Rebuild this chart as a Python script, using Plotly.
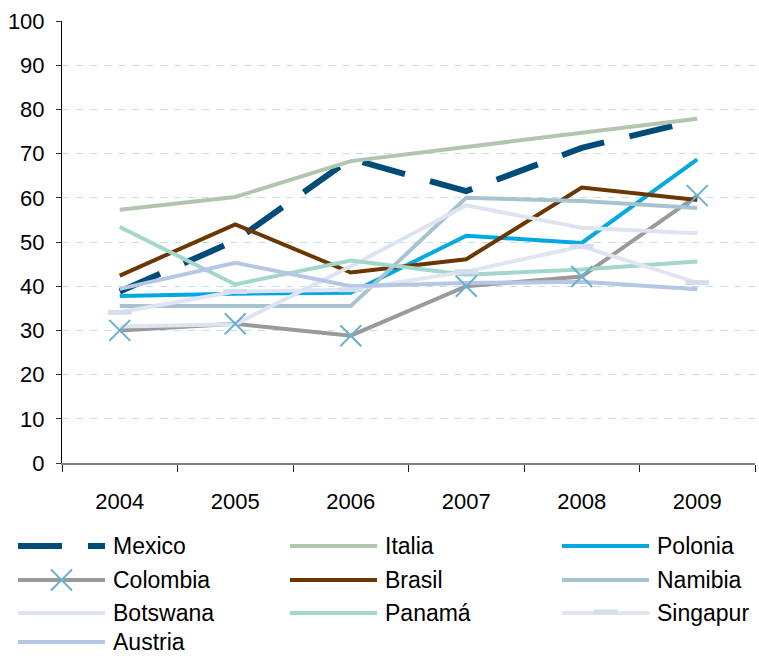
import plotly.graph_objects as go

# Index values per country, 2004-2009
years = ["2004", "2005", "2006", "2007", "2008", "2009"]
mexico = [38.8, 50.3, 68.8, 61.5, 71.3, 77.6]
italia = [57.3, 60.2, 68.3, 71.4, 74.7, 77.9]
polonia = [37.8, 38.3, 38.5, 51.4, 49.8, 68.7]
colombia = [30.0, 31.5, 28.8, 40.0, 42.2, 60.5]
brasil = [42.4, 54.0, 43.1, 46.1, 62.3, 59.5]
namibia = [35.5, 35.5, 35.5, 60.0, 59.3, 57.7]
botswana = [30.9, 31.4, 44.5, 58.3, 53.2, 52.0]
panama = [53.4, 40.4, 45.8, 42.6, 43.8, 45.6]
singapur = [34.1, 38.8, 39.2, 43.3, 49.0, 40.8]
austria = [39.4, 45.3, 40.0, 40.7, 41.0, 39.3]

names = ["Mexico", "Italia", "Polonia", "Colombia", "Brasil",
         "Namibia", "Botswana", "Panamá", "Singapur", "Austria"]
values = [mexico, italia, polonia, colombia, brasil,
          namibia, botswana, panama, singapur, austria]
colors = ["#004C78", "#B2C5AF", "#00A9E0", "#9A9A9A", "#6B3700",
          "#A6C3D1", "#DDE3F1", "#A3D7CB", "#E1E5F3", "#B5C7E4"]
widths = [6, 4, 4, 4, 4, 4, 4, 4, 4, 4]
dashes = ["44px,26px"] + ["solid"] * 9

COLOMBIA_MARK = "#6BAFD0"
SINGAPUR_MARK = "#D6DDEE"

W, H = 759, 658
TOP = 21
PLOT_BOTTOM = 463
PLOT_LEFT, PLOT_RIGHT = 62, 755
main_y0 = (H - PLOT_BOTTOM) / (H - TOP)

AXIS_FONT = "Liberation Sans, Arial, sans-serif"
LEGEND_FONT = "Liberation Sans, Arial, sans-serif"

fig = go.Figure()

# Country lines (drawn in legend order, later series on top)
for name, vals, col, w, d in zip(names, values, colors, widths, dashes):
    fig.add_trace(go.Scatter(
        x=years, y=vals, mode="lines", name=name,
        line=dict(color=col, width=w, dash=d),
        showlegend=False, xaxis="x", yaxis="y",
    ))

# Point markers sit above all lines
fig.add_trace(go.Scatter(
    x=years, y=colombia, mode="markers", showlegend=False,
    marker=dict(symbol="x-thin-open", size=21, color=COLOMBIA_MARK,
                line=dict(color=COLOMBIA_MARK, width=2)),
))
fig.add_trace(go.Scatter(
    x=years, y=singapur, mode="markers", showlegend=False,
    marker=dict(symbol="line-ew-open", size=17, color=SINGAPUR_MARK,
                line=dict(color=SINGAPUR_MARK, width=5)),
))

# Legend block below the plot, laid out on a helper axis in pixel units
col_line_x = [18, 290, 562]
line_len = 87
text_gap = 6
row_y = [546, 580, 613, 642]

for i, (name, col, w, d) in enumerate(zip(names, colors, widths, dashes)):
    r, c = divmod(i, 3)
    x0 = col_line_x[c]
    yy = row_y[r]
    fig.add_trace(go.Scatter(
        x=[x0, x0 + line_len], y=[yy, yy], mode="lines",
        line=dict(color=col, width=w, dash=d),
        showlegend=False, hoverinfo="skip", xaxis="x2", yaxis="y2",
    ))
    if name == "Colombia":
        fig.add_trace(go.Scatter(
            x=[x0 + line_len / 2], y=[yy], mode="markers", showlegend=False,
            hoverinfo="skip", xaxis="x2", yaxis="y2",
            marker=dict(symbol="x-thin-open", size=21, color=COLOMBIA_MARK,
                        line=dict(color=COLOMBIA_MARK, width=2)),
        ))
    if name == "Singapur":
        fig.add_trace(go.Scatter(
            x=[x0 + line_len / 2], y=[yy - 1], mode="markers", showlegend=False,
            hoverinfo="skip", xaxis="x2", yaxis="y2",
            marker=dict(symbol="line-ew-open", size=17, color=SINGAPUR_MARK,
                        line=dict(color=SINGAPUR_MARK, width=5)),
        ))
    fig.add_annotation(
        x=x0 + line_len + text_gap, y=yy, xref="x2", yref="y2",
        text=name, showarrow=False, xanchor="left", yanchor="middle",
        font=dict(family=LEGEND_FONT, size=23, color="#000000"),
    )

fig.update_layout(
    width=W, height=H,
    margin=dict(l=0, r=0, t=TOP, b=0, pad=0, autoexpand=False),
    paper_bgcolor="white", plot_bgcolor="white",
    showlegend=False,
    xaxis=dict(
        domain=[PLOT_LEFT / W, PLOT_RIGHT / W], type="category",
        range=[-0.5, 5.5],
        showline=True, linecolor="#808080", linewidth=1.5,
        ticks="outside", tickson="boundaries", ticklen=7,
        tickcolor="#222222", tickwidth=1,
        showgrid=False, zeroline=False, automargin=False,
        tickfont=dict(family=AXIS_FONT, size=22, color="#000000"),
        ticklabelstandoff=18,
        anchor="y",
    ),
    yaxis=dict(
        domain=[main_y0, 1], range=[0, 100], dtick=10,
        showline=True, linecolor="#000000", linewidth=1,
        ticks="outside", ticklen=5, tickcolor="#333333",
        showgrid=True, gridcolor="#BFE3DC", gridwidth=1, griddash="7px,7px",
        zeroline=False, automargin=False,
        tickfont=dict(family=AXIS_FONT, size=22, color="#000000"),
        ticklabelstandoff=7,
        anchor="x",
    ),
    xaxis2=dict(domain=[0, 1], range=[0, W], visible=False, anchor="y2",
                fixedrange=True),
    yaxis2=dict(domain=[0, main_y0], range=[H, PLOT_BOTTOM], visible=False,
                anchor="x2", fixedrange=True),
)

fig.write_html("out.html")
